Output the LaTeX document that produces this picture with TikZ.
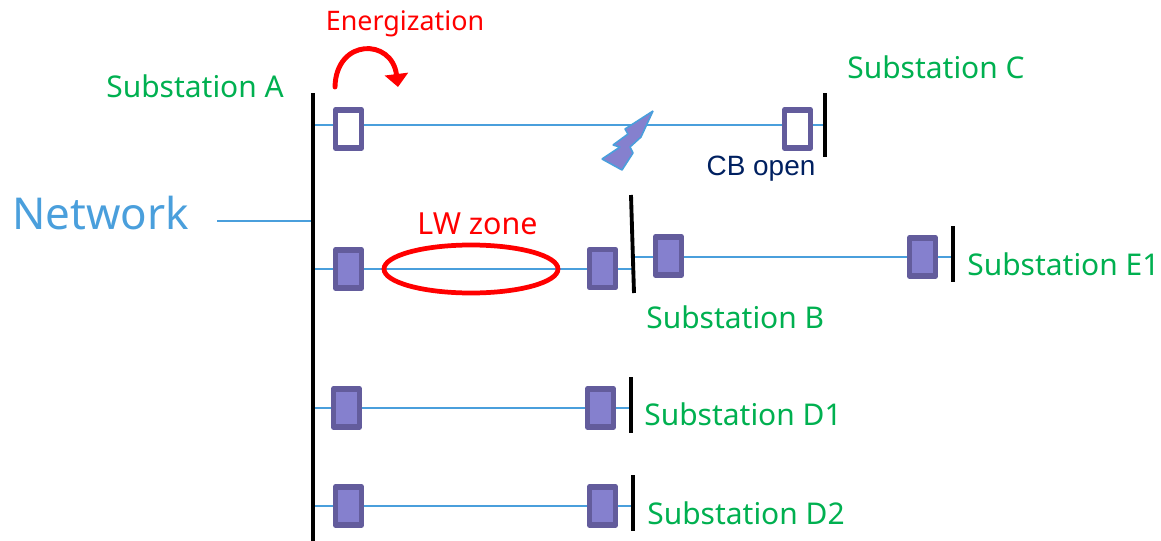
\documentclass[tikz,border=0pt]{standalone}
\usepackage{fontspec}
\usepackage{tikz}
\setmainfont{Noto Sans}
\newfontfamily\cbfont{Liberation Sans}
\usetikzlibrary{arrows.meta}
\usetikzlibrary{positioning}
\definecolor{mline}{HTML}{4A9FDC}
\definecolor{mbox}{HTML}{635C9C}
\definecolor{mfill}{HTML}{8580CE}
\definecolor{mgreen}{HTML}{00B050}
\definecolor{mnavy}{HTML}{002060}
\tikzset{breaker/.style = {draw=mbox, line width=3.3pt, line join=round, fill=mfill,
                           minimum width=0.52cm, minimum height=0.76cm, inner sep=0pt},
         openbreaker/.style = {breaker, fill=white},
         feeder/.style = {mline, line width=1.2pt},
         bus/.style = {line width=2.2pt},
         station/.style = {mgreen, font=\fontsize{17.05}{20}\selectfont, inner sep=0pt, anchor=west}}

\begin{document}
\begin{tikzpicture}[x=0.02cm, y=-0.02cm]
      \useasboundingbox (0, 0) rectangle (1161, 541);
      \coordinate (busAtop) at (313, 93);
      \coordinate (busAbot) at (313, 541);
      \coordinate (busCtop) at (825, 93);
      \coordinate (busCbot) at (825, 157);
      \coordinate (busBtop) at (631, 195);
      \coordinate (busBbot) at (634, 293);
      \coordinate (busEtop) at (953, 226);
      \coordinate (busEbot) at (953, 282);
      \coordinate (busDatop) at (631, 377);
      \coordinate (busDabot) at (631, 433);
      \coordinate (busDbtop) at (633, 475);
      \coordinate (busDbbot) at (633, 531);
      \coordinate (netEnd) at (217, 221);
      \coordinate (netBus) at (313, 221);
      \coordinate (aTop) at (313, 125);
      \coordinate (cTop) at (825, 125);
      \coordinate (aB) at (313, 269);
      \coordinate (bLeft) at (632, 269);
      \coordinate (bRight) at (633, 257);
      \coordinate (eBus) at (953, 257);
      \coordinate (aDa) at (313, 408);
      \coordinate (daBus) at (631, 408);
      \coordinate (aDb) at (313, 506);
      \coordinate (dbBus) at (633, 506);
      \coordinate (arcStart) at (335, 87);
      \coordinate (arcEnd) at (398, 87);

      \draw [feeder] (netEnd) -- (netBus);
      \draw [feeder] (aTop) -- (cTop);
      \draw [feeder] (aB) -- (bLeft);
      \draw [feeder] (bRight) -- (eBus);
      \draw [feeder] (aDa) -- (daBus);
      \draw [feeder] (aDb) -- (dbBus);

      \draw [bus] (busAtop) -- (busAbot);
      \draw [bus] (busCtop) -- (busCbot);
      \draw [bus] (busBtop) -- (busBbot);
      \draw [bus] (busEtop) -- (busEbot);
      \draw [bus] (busDatop) -- (busDabot);
      \draw [bus] (busDbtop) -- (busDbbot);

      \node [openbreaker] (cbA) at (348.5, 129) {};
      \node [openbreaker] (cbC) at (797.5, 129) {};
      \node [breaker] (cbAB) at (348.5, 269) {};
      \node [breaker] (cbBA) at (602.5, 268.5) {};
      \node [breaker] (cbBE) at (668.5, 256) {};
      \node [breaker] (cbEB) at (922.5, 257) {};
      \node [breaker] (cbAD) at (346.5, 408) {};
      \node [breaker] (cbDA) at (600.5, 408) {};
      \node [breaker] (cbAF) at (348.5, 506) {};
      \node [breaker] (cbFA) at (602.5, 506) {};

      \draw [red, line width=2.7pt] (471, 269) ellipse (87 and 24);
      \draw [red, line width=2.8pt, line cap=round, -{Triangle[length=0.26cm, width=0.46cm]}]
            (arcStart) .. controls (336, 38) and (392, 38) .. (arcEnd);
      \draw [mline, fill=mfill, line width=0.9pt, line join=bevel] (653, 111) -- (641, 137) -- (630, 147)
            -- (633, 153) -- (622, 170) -- (602, 159) -- (620, 147) -- (613, 145) -- (628, 134)
            -- (625, 129) -- cycle;

      \node [station, anchor=center, mline, font=\fontsize{25}{30}\selectfont] (network) at (100.5, 213) {Network};
      \node [station, red, anchor=center, font=\fontsize{15.3}{18}\selectfont] (energization) at (405, 24) {Energization};
      \node [station, red, anchor=center, font=\fontsize{17.3}{20}\selectfont] (lwzone) at (477.5, 224) {LW zone};
      \node [station] (subA) at (106, 86) {Substation A};
      \node [station] (subC) at (847, 67) {Substation C};
      \node [station] (subB) at (646, 317) {Substation B};
      \node [station] (subE) at (967, 264) {Substation E1};
      \node [station] (subDa) at (644, 414) {Substation D1};
      \node [station] (subDb) at (647, 513) {Substation D2};
      \node [anchor=center, inner sep=0pt, mnavy, font=\cbfont\fontsize{15.9}{18}\selectfont] (cbopen) at (761, 169) {CB open};
\end{tikzpicture}
\end{document}
